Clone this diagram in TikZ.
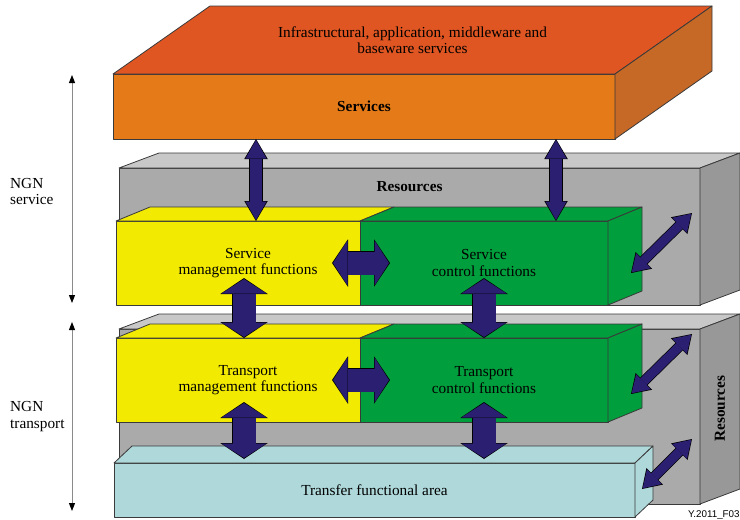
\documentclass[tikz,border=0pt]{standalone}
\usepackage{fontspec}
\setmainfont{Liberation Serif}
\setsansfont{Liberation Sans}
\usetikzlibrary{arrows.meta,calc}

\definecolor{svcfront}{HTML}{E57A18}
\definecolor{svctop}{HTML}{E05622}
\definecolor{svcside}{HTML}{C66826}
\definecolor{resfront}{HTML}{AAAAAA}
\definecolor{restop}{HTML}{C8C8C8}
\definecolor{resside}{HTML}{989898}
\definecolor{mgmtyel}{HTML}{F2EA00}
\definecolor{ctrlgrn}{HTML}{009E3C}
\definecolor{xfercyan}{HTML}{AFD8DA}
\definecolor{arrnavy}{HTML}{2A1F70}
\definecolor{edgegray}{HTML}{3A3A3A}
\definecolor{ngnline}{HTML}{8A8A8A}

\tikzset{
  face/.style={draw=edgegray, line width=0.8pt, line join=round},
  front/.style={face, rectangle, outer sep=0pt, inner sep=0pt, align=center},
  lbl/.style={align=center, inner sep=0pt},
  slimarr/.style={arrnavy, line width=12pt, shorten <=1pt, shorten >=1pt,
    {Triangle[width=21pt,length=18.5pt,line width=0pt]}-{Triangle[width=21pt,length=18.5pt,line width=0pt]},
    preaction={draw=black, line width=13.4pt, shorten <=0pt, shorten >=0pt,
      {Triangle[width=23.5pt,length=20pt,line width=0pt]}-{Triangle[width=23.5pt,length=20pt,line width=0pt]}}},
  fatarr/.style={arrnavy, line width=23pt, shorten <=1pt, shorten >=1pt,
    {Triangle[width=45pt,length=14.5pt,line width=0pt]}-{Triangle[width=45pt,length=14.5pt,line width=0pt]},
    preaction={draw=black, line width=24.4pt, shorten <=0pt, shorten >=0pt,
      {Triangle[width=47.5pt,length=16pt,line width=0pt]}-{Triangle[width=47.5pt,length=16pt,line width=0pt]}}},
  diagarr/.style={arrnavy, line width=9pt, shorten <=1pt, shorten >=1pt,
    {Triangle[width=21pt,length=16.5pt,line width=0pt]}-{Triangle[width=21pt,length=16.5pt,line width=0pt]},
    preaction={draw=black, line width=10.4pt, shorten <=0pt, shorten >=0pt,
      {Triangle[width=23.5pt,length=18pt,line width=0pt]}-{Triangle[width=23.5pt,length=18pt,line width=0pt]}}},
  ngnarr/.style={ngnline, line width=1pt,
    {Triangle[width=6pt,length=8pt,color=black]}-{Triangle[width=6pt,length=8pt,color=black]}},
}

\begin{document}
\fontsize{15.3}{16.3}\selectfont
\begin{tikzpicture}[x=1pt, y=-1pt]
  \useasboundingbox (0,0) rectangle (740,520);

  % resources behind the service stratum
  \node[front, fill=resfront, minimum width=581, minimum height=137] (resU) at (409.5,236.5) {};
  \filldraw[face, fill=restop] (resU.north west) -- ++(40,-15) -- ($(resU.north east)+(40,-15)$) -- (resU.north east) -- cycle;
  \filldraw[face, fill=resside] (resU.north east) -- ++(40,-15) -- ($(resU.south east)+(40,-15)$) -- (resU.south east) -- cycle;
  \node[lbl, font=\bfseries] (resUt) at ([yshift=-19pt]resU.north) {Resources};

  % resources behind the transport stratum
  \node[front, fill=resfront, minimum width=581, minimum height=175] (resL) at (409.5,416.5) {};
  \filldraw[face, fill=restop] (resL.north west) -- ++(40,-15) -- ($(resL.north east)+(40,-15)$) -- (resL.north east) -- cycle;
  \filldraw[face, fill=resside] (resL.north east) -- ++(40,-15) -- ($(resL.south east)+(40,-15)$) -- (resL.south east) -- cycle;
  \node[lbl, font=\bfseries, rotate=90] (resLt) at ($(resL.east)+(20,-8)$) {Resources};

  % service stratum
  \node[front, fill=mgmtyel, minimum width=244, minimum height=84] (smf) at (238,263) {};
  \filldraw[face, fill=mgmtyel] (smf.north west) -- ++(34,-14) -- ($(smf.north east)+(34,-14)$) -- (smf.north east) -- cycle;
  \node[front, fill=ctrlgrn, minimum width=248, minimum height=84] (scf) at (484,263) {Service\\control functions};
  \filldraw[face, fill=ctrlgrn] (scf.north west) -- ++(34,-14) -- ($(scf.north east)+(34,-14)$) -- (scf.north east) -- cycle;
  \filldraw[face, fill=ctrlgrn] (scf.north east) -- ++(34,-14) -- ($(scf.south east)+(34,-14)$) -- (scf.south east) -- cycle;
  \node[lbl] (smft) at (248,263) {Service\\management functions};

  % transport stratum
  \node[front, fill=mgmtyel, minimum width=244, minimum height=84] (tmf) at (238,380) {};
  \filldraw[face, fill=mgmtyel] (tmf.north west) -- ++(34,-14) -- ($(tmf.north east)+(34,-14)$) -- (tmf.north east) -- cycle;
  \node[front, fill=ctrlgrn, minimum width=248, minimum height=84] (tcf) at (484,380) {Transport\\control functions};
  \filldraw[face, fill=ctrlgrn] (tcf.north west) -- ++(34,-14) -- ($(tcf.north east)+(34,-14)$) -- (tcf.north east) -- cycle;
  \filldraw[face, fill=ctrlgrn] (tcf.north east) -- ++(34,-14) -- ($(tcf.south east)+(34,-14)$) -- (tcf.south east) -- cycle;
  \node[lbl] (tmft) at (248,380) {Transport\\management functions};

  \node[front, fill=xfercyan, minimum width=521, minimum height=54] (tfa) at (374.5,490) {Transfer functional area};
  \filldraw[face, fill=xfercyan] (tfa.north west) -- ++(18,-17) -- ($(tfa.north east)+(18,-17)$) -- (tfa.north east) -- cycle;
  \filldraw[face, fill=xfercyan] (tfa.north east) -- ++(18,-17) -- ($(tfa.south east)+(18,-17)$) -- (tfa.south east) -- cycle;

  % services on top
  \node[front, fill=svcfront, minimum width=502, minimum height=65, font=\bfseries] (svc) at (364,106.5) {Services};
  \filldraw[face, fill=svctop] (svc.north west) -- ++(97,-68) -- ($(svc.north east)+(97,-68)$) -- (svc.north east) -- cycle;
  \filldraw[face, fill=svcside] (svc.north east) -- ++(97,-68) -- ($(svc.south east)+(97,-68)$) -- (svc.south east) -- cycle;
  \node[lbl] (svct) at (412.5,40) {Infrastructural, application, middleware and\\baseware services};

  % arrows between the layers
  \draw[slimarr] ($(svc.south)+(-108,0)$) -- ($(smf.north)+(18,0)$);
  \draw[slimarr] ($(svc.south)+(192,0)$) -- ($(scf.north)+(72,0)$);
  \draw[fatarr] ($(smf.east)+(-28,0)$) -- ($(scf.west)+(30,0)$);
  \draw[fatarr] ($(tmf.east)+(-28,0)$) -- ($(tcf.west)+(30,0)$);
  \draw[fatarr] ($(smf.south)+(6,-27)$) -- ($(tmf.north)+(6,0)$);
  \draw[fatarr] ($(scf.south)+(0,-27)$) -- (tcf.north);
  \draw[fatarr] ($(tmf.south)+(6,-20)$) -- ($(tfa.north)+(-130.5,-4)$);
  \draw[fatarr] ($(tcf.south)+(0,-20)$) -- ($(tfa.north)+(109.5,-4)$);
  \draw[diagarr] ($(scf.east)+(23,10)$) -- ($(resU.east)+(-8,-23.5)$);
  \draw[diagarr] ($(tcf.east)+(23,14)$) -- ($(resL.north east)+(-8,5)$);
  \draw[diagarr] ($(tfa.east)+(7,-1)$) -- ($(resL.east)+(-8,22.5)$);

  % NGN strata on the left
  \coordinate (sTop) at (72,75);
  \coordinate (sBot) at (72,303);
  \coordinate (tTop) at (72,322);
  \coordinate (tBot) at (72,511);
  \draw[ngnarr] (sTop) -- (sBot);
  \draw[ngnarr] (tTop) -- (tBot);
  \node[lbl, align=left, anchor=west] (ngns) at (10,191.5) {NGN\\service};
  \node[lbl, align=left, anchor=west] (ngnt) at (10,416.5) {NGN\\transport};

  \node[lbl, anchor=base west, font=\sffamily\fontsize{9.8}{10}\selectfont] (figno) at (688,517) {Y.2011\_F03};
\end{tikzpicture}
\end{document}
